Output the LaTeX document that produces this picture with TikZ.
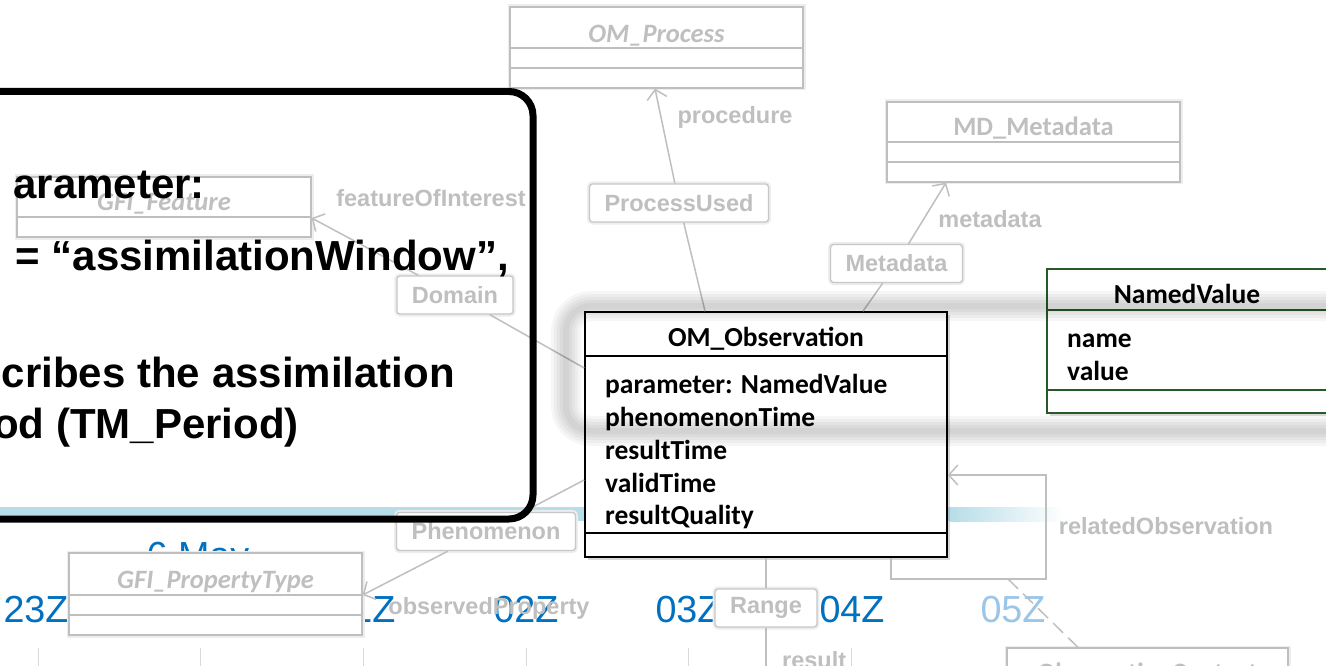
\documentclass[tikz,border=0pt]{standalone}
\usepackage{fontspec}
\setmainfont{Liberation Sans}
\newfontfamily\calfont{Carlito}
\usetikzlibrary{positioning, arrows.meta, shadows}

\definecolor{tlblue}{HTML}{0070C0}
\definecolor{tlfade}{HTML}{9CC6E8}
\definecolor{bandblue}{HTML}{B7DDE8}
\definecolor{nvgreen}{HTML}{285A28}
\colorlet{faded}{black!25}

\begin{document}
\begin{tikzpicture}[
  x=1pt, y=-1pt,
  tick/.style={draw=black!15, line width=1pt},
  hour/.style={font=\fontsize{37.7}{40}\selectfont, text=tlblue, anchor=base, inner sep=0pt},
  gbox/.style={draw=black!25, fill=white, line width=1.3pt, inner sep=0pt,
               preaction={draw=black!7, line width=5pt}},
  gdiv/.style={draw=black!25, line width=1.3pt},
  gtitle/.style={font=\calfont\bfseries\itshape\fontsize{26.5}{30}\selectfont,
                 text=faded, anchor=base, inner sep=0pt},
  gplain/.style={gtitle, font=\calfont\bfseries\fontsize{26.5}{30}\selectfont},
  role/.style={font=\bfseries\fontsize{23.5}{26}\selectfont, text=faded,
               anchor=base, inner sep=0pt},
  rolebox/.style={role, anchor=center, draw=black!22, fill=white, line width=1.3pt,
                  rounded corners=3pt, minimum height=38pt, inner xsep=15pt,
                  preaction={draw=black!7, line width=5pt}},
  cbox/.style={draw=black, fill=white, line width=1.6pt, inner sep=0pt,
               drop shadow={opacity=.3, shadow xshift=3pt, shadow yshift=-3pt}},
  cdiv/.style={draw=black, line width=1.5pt},
  ctitle/.style={font=\calfont\bfseries\fontsize{27.5}{30}\selectfont,
                 anchor=base, inner sep=0pt},
  attr/.style={ctitle, anchor=base west},
  link/.style={draw=faded, line width=1.5pt},
  assoc/.style={link, -{Straight Barb[length=9pt, width=20pt]}},
  glow/.style={draw=black, rounded corners=25pt},
  note/.style={font=\bfseries\fontsize{42}{48}\selectfont, anchor=base east, inner sep=0pt},
]
% page
\fill[white] (0,0) rectangle (1326,666);
\useasboundingbox (0,0) rectangle (1326,666);

% time axis behind the diagram
\foreach \tx in {38,200,363,526,688,851,1013}
  \draw[tick] (\tx,648) -- (\tx,672);
\node[hour] (t23) at (36,622) {23Z};
\node[hour] (t01) at (363,622) {01Z};
\node[hour] (t02) at (526,622) {02Z};
\node[hour] (t03) at (688,622) {03Z};
\node[hour] (t04) at (852,622) {04Z};
\node[hour, text=tlfade] (t05) at (1013,622) {05Z};
\node[hour] (day) at (198,568) {6 May};
\fill[bandblue] (0,507) rectangle (950,521);
\shade[left color=bandblue, right color=white] (950,507) rectangle (1065,521);

% faded classes
\node[gbox, minimum width=293pt, minimum height=81pt] (proc) at (656.5,47.5) {};
\node[gtitle] (proc-t) at (656.5,43) {OM\_Process};
\draw[gdiv] (proc.west |- 0,48) -- (proc.east |- 0,48)
            (proc.west |- 0,68) -- (proc.east |- 0,68);

\node[gbox, minimum width=293pt, minimum height=80pt] (md) at (1033.5,142) {};
\node[gplain] (md-t) at (1033.5,136) {MD\_Metadata};
\draw[gdiv] (md.west |- 0,142) -- (md.east |- 0,142)
            (md.west |- 0,162) -- (md.east |- 0,162);

\node[gbox, minimum width=294pt, minimum height=60pt] (feat) at (164,207) {};
\node[gtitle] (feat-t) at (164,211) {GFI\_Feature};
\draw[gdiv] (feat.west |- 0,217) -- (feat.east |- 0,217);

\node[gbox, minimum width=293pt, minimum height=82pt] (ptype) at (215.5,594) {};
\node[gtitle] (ptype-t) at (215.5,588) {GFI\_PropertyType};
\draw[gdiv] (ptype.west |- 0,595) -- (ptype.east |- 0,595)
            (ptype.west |- 0,615) -- (ptype.east |- 0,615);

\node[gbox, minimum width=281pt, minimum height=104pt] (ctx) at (1147.5,700) {};
\node[gplain] (ctx-t) at (1147.5,681) {ObservationContext};

% observation and parameter classes
\node[cbox, minimum width=362pt, minimum height=245pt] (obs) at (766,434.5) {};
\node[ctitle] (obs-t) at (766,346) {OM\_Observation};
\draw[cdiv] (obs.west |- 0,356) -- (obs.east |- 0,356)
            (obs.west |- 0,533) -- (obs.east |- 0,533);
\node[attr] (obs-a1) at (605,393) {parameter: NamedValue};
\node[attr] (obs-a2) at (605,426) {phenomenonTime};
\node[attr] (obs-a3) at (605,459) {resultTime};
\node[attr] (obs-a4) at (605,492) {validTime};
\node[attr] (obs-a5) at (605,524) {resultQuality};

\node[cbox, draw=nvgreen, minimum width=283pt, minimum height=144pt] (nv) at (1188.5,341) {};
\node[ctitle] (nv-t) at (1187,303) {NamedValue};
\draw[cdiv, draw=nvgreen] (nv.west |- 0,310) -- (nv.east |- 0,310)
            (nv.west |- 0,390) -- (nv.east |- 0,390);
\node[attr] (nv-a1) at (1067,347) {name};
\node[attr] (nv-a2) at (1067,380) {value};

% association classes
\node[rolebox] (pu) at (679,203) {ProcessUsed};
\node[rolebox] (mdl) at (896.5,263.5) {Metadata};
\node[rolebox] (dom) at (455,295) {Domain};
\node[rolebox] (phen) at (486,531.5) {Phenomenon};
\node[rolebox] (rng) at (766,608) {Range};

% connectors
\draw[link] (obs.north -| 705,0) -- (pu);
\draw[assoc] (pu) -- (proc.south -| 655,0);
\draw[link] (obs.north -| 863,0) -- (mdl);
\draw[assoc] (mdl) -- (md.south -| 946,0);
\draw[link] (obs.west |- 0,368) -- (dom);
\draw[assoc] (dom) -- (feat.east |- 0,218);
\draw[link] (obs.west |- 0,480) -- (phen);
\draw[assoc] (phen) -- (ptype.east |- 0,595);
\coordinate (rng-end) at (766,672);
\draw[link] (obs.south -| rng-end) -- (rng);
\draw[link] (rng) -- (rng-end);
\coordinate (loop-a) at (891,579);
\coordinate (loop-b) at (1046,579);
\coordinate (loop-c) at (1046,475);
\draw[assoc] (obs.south -| loop-a) -- (loop-a) -- (loop-b) -- (loop-c) -- (obs.east |- loop-c);
\coordinate (ctx-join) at (1008,579);
\draw[link, dash pattern=on 14pt off 7pt] (ctx-join) -- (ctx.north -| 1078,0);

% role names
\node[role] (lbl-proc) at (735,124) {procedure};
\node[role] (lbl-foi) at (431,207) {featureOfInterest};
\node[role] (lbl-md) at (990,227) {metadata};
\node[role] (lbl-op) at (489,614) {observedProperty};
\node[role, anchor=base west] (lbl-res) at (782,668) {result};
\node[role] (lbl-rel) at (1166,534) {relatedObservation};

% soft highlight round observation + parameter
\foreach \w in {30,24,18,12,6}
  \draw[glow, line width=\w, opacity=.035] (566,306) rectangle (1380,431);

% callout
\node[note] (n1) at (205,199) {arameter:};
\node[note] (n2) at (509,270) {= “assimilationWindow”,};
\node[note] (n3) at (455,387) {cribes the assimilation};
\node[note] (n4) at (299,438) {od (TM\_Period)};
\draw[line width=7pt, rounded corners=24pt] (-40,91.5) rectangle (533,519);
\end{tikzpicture}
\end{document}
